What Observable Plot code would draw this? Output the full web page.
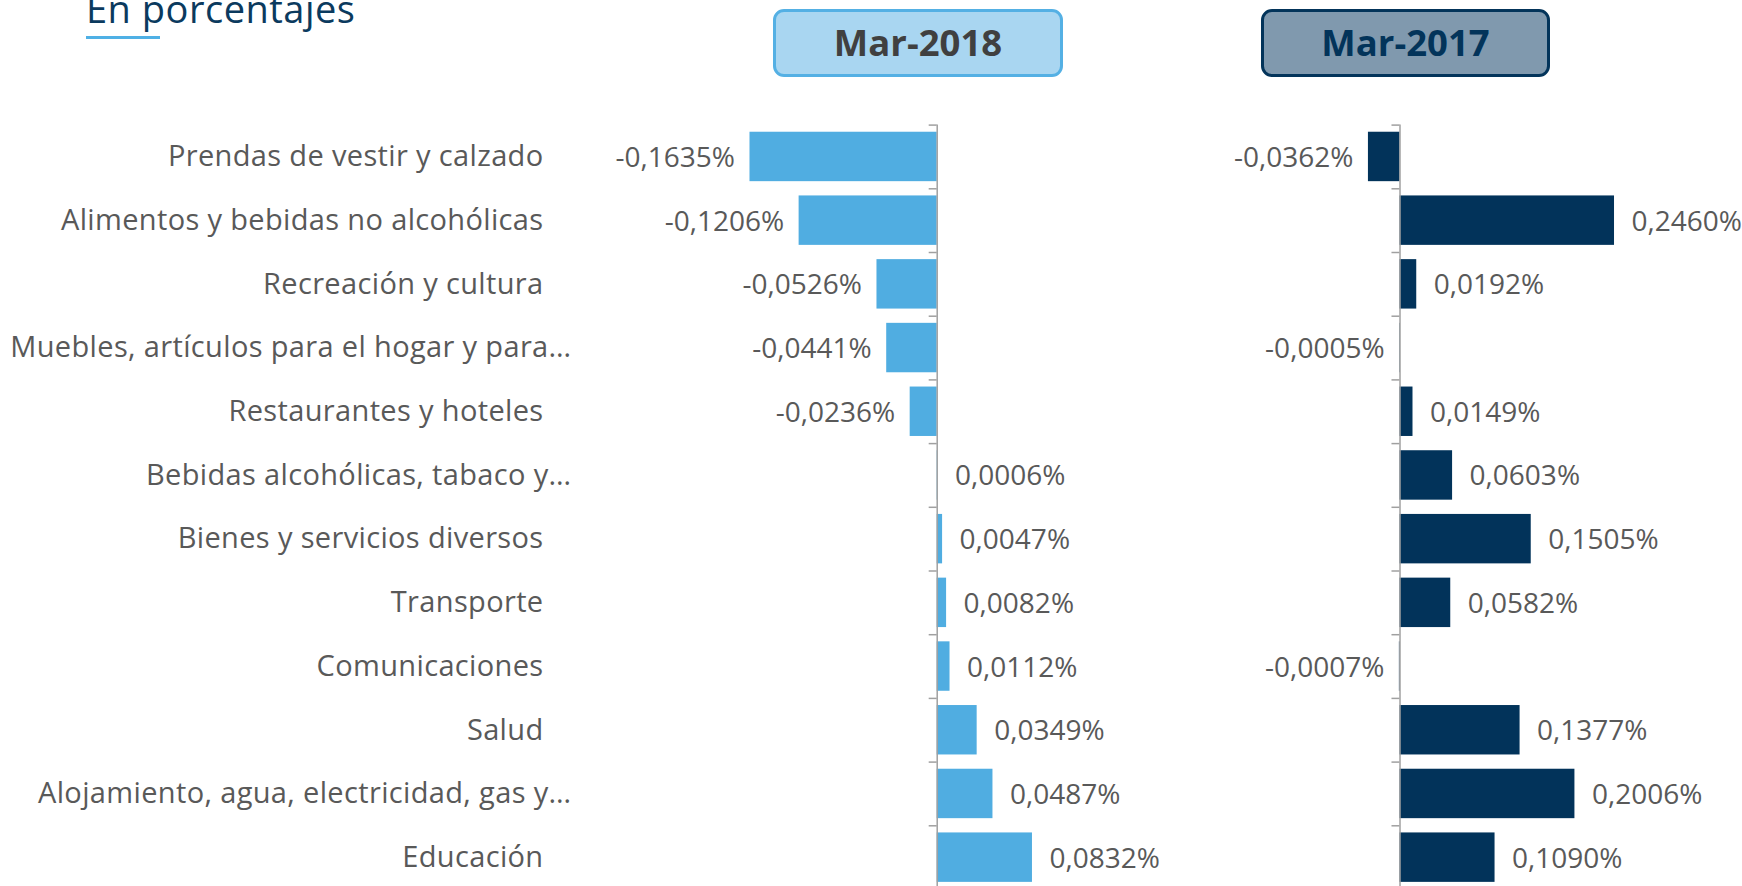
<!DOCTYPE html>
<html>
<head>
<meta charset="utf-8">
<script src="https://cdn.jsdelivr.net/npm/d3@7"></script>
<script src="https://cdn.jsdelivr.net/npm/@observablehq/plot@0.6"></script>
<style>
  html, body { margin: 0; padding: 0; background: #fff; overflow: hidden; }
  #wrap { position: relative; width: 1742px; height: 886px; overflow: hidden; font-family: "Open Sans", sans-serif; }
  #title { position: absolute; left: 86px; top: -17.7px; font-size: 38px; letter-spacing: 0.5px; font-weight: 400; color: #0b3a5e; white-space: nowrap; line-height: 52px; }
  #uline { position: absolute; left: 86px; top: 36px; width: 74px; height: 3px; background: #4fb0e5; }
  .hdr { position: absolute; top: 9px; height: 68px; box-sizing: border-box; border-radius: 11px; border: 3.5px solid; text-align: center; font-weight: 700; font-size: 36.5px; line-height: 61px; }
  #h1 { left: 773px; width: 290px; background: #a9d6f1; border-color: #54b0e4; color: #404040; }
  #h2 { left: 1261px; width: 289px; background: #8099ae; border-color: #03345a; color: #03345a; }
  .plot { position: absolute; top: 0; }
  svg { overflow: visible; }
  .catlab text { letter-spacing: 0.35px; }
</style>
</head>
<body>
<div id="wrap">
  <div id="title">En porcentajes</div>
  <div id="uline"></div>
  <div id="h1" class="hdr">Mar-2018</div>
  <div id="h2" class="hdr">Mar-2017</div>
  <div id="p1" class="plot" style="left:0px"></div>
  <div id="p2" class="plot" style="left:1150px"></div>
</div>
<script>
const categories = [
  "Prendas de vestir y calzado",
  "Alimentos y bebidas no alcohólicas",
  "Recreación y cultura",
  "Muebles, artículos para el hogar y para…",
  "Restaurantes y hoteles",
  "Bebidas alcohólicas, tabaco y…",
  "Bienes y servicios diversos",
  "Transporte",
  "Comunicaciones",
  "Salud",
  "Alojamiento, agua, electricidad, gas y…",
  "Educación"
];
const mar2018 = [-0.1635, -0.1206, -0.0526, -0.0441, -0.0236, 0.0006, 0.0047, 0.0082, 0.0112, 0.0349, 0.0487, 0.0832];
const mar2017 = [-0.0362, 0.2460, 0.0192, -0.0005, 0.0149, 0.0603, 0.1505, 0.0582, -0.0007, 0.1377, 0.2006, 0.1090];

const fmt = v => v.toFixed(4).replace(".", ",") + "%";
const rows18 = categories.map((c, i) => ({cat: c, v: mar2018[i]}));
const rows17 = categories.map((c, i) => ({cat: c, v: mar2017[i]}));

const H = 889, MT = 124.6;
const FONT = "Open Sans";
const labelColor = "#595959";
const axisColor = "#a0a0a0";
const yScale = {domain: categories, paddingInner: 0.224, paddingOuter: 0.112, round: false};
const step = (H - MT) / categories.length;

function panel(rows, opts) {
  const {width, marginLeft, marginRight, domain, fill, tickLen, withLabels} = opts;
  const marks = [
    Plot.barX(rows, {x: "v", y: "cat", fill, inset: 0}),
    Plot.ruleX([0], {stroke: axisColor, strokeWidth: 1.5}),
    Plot.ruleY(rows, {y: "cat", x1: -tickLen, x2: 0, dy: -step / 2, stroke: axisColor, strokeWidth: 1.5}),
    Plot.text(rows.filter(d => d.v < 0), {x: "v", y: "cat", text: d => fmt(d.v), textAnchor: "end", dx: -15, dy: 1, fill: labelColor, fontSize: 28, fontFamily: FONT}),
    Plot.text(rows.filter(d => d.v >= 0), {x: "v", y: "cat", text: d => fmt(d.v), textAnchor: "start", dx: 17, dy: 1, fill: labelColor, fontSize: 28, fontFamily: FONT})
  ];
  if (withLabels) {
    marks.push(
      Plot.text(rows.filter(d => !d.cat.endsWith("…")), {y: "cat", text: "cat", frameAnchor: "left", textAnchor: "end", dx: -(marginLeft - 543), fill: labelColor, fontSize: 29, fontFamily: FONT, className: "catlab"}),
      Plot.text(rows.filter(d => d.cat.endsWith("…")), {y: "cat", text: "cat", frameAnchor: "left", textAnchor: "end", dx: -(marginLeft - 571), fill: labelColor, fontSize: 29, fontFamily: FONT, className: "catlab"})
    );
  }
  return Plot.plot({
    width, height: H,
    marginTop: MT, marginBottom: 0, marginLeft, marginRight,
    x: {domain, axis: null},
    y: {...yScale, axis: null},
    style: {fontFamily: FONT, background: "transparent", overflow: "visible"},
    marks
  });
}

// Left panel: zero at ~936.7px, ~1145 px per unit
document.getElementById("p1").append(panel(rows18, {
  width: 1150, marginLeft: 707.7, marginRight: 98.8, domain: [-0.2, 0.1],
  fill: "#50ade1", tickLen: 0.007, withLabels: true
}));
// Right panel: zero at ~1399.5px, ~872 px per unit
document.getElementById("p2").append(panel(rows17, {
  width: 592, marginLeft: 205.9, marginRight: 124.5, domain: [-0.05, 0.25],
  fill: "#02335a", tickLen: 0.0092, withLabels: false
}));
</script>
</body>
</html>
